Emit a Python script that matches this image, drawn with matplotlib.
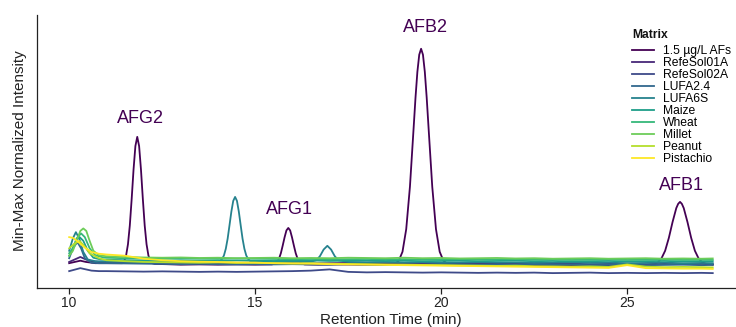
import matplotlib
matplotlib.use("Agg")
import matplotlib.pyplot as plt

plt.rcParams['font.family'] = ['Liberation Sans', 'DejaVu Sans']

# ---------------- data ----------------
series_names = ["1.5 µg/L AFs", "RefeSol01A", "RefeSol02A", "LUFA2.4", "LUFA6S",
                "Maize", "Wheat", "Millet", "Peanut", "Pistachio"]
series_colors = ["#440154", "#482878", "#3E4A89", "#31688E", "#26828E",
                 "#1F9E89", "#35B779", "#6DCD59", "#B4DE2C", "#FDE725"]

peak_labels = ["AFG2", "AFG1", "AFB2", "AFB1"]
peak_label_t = [11.91, 15.91, 19.57, 26.45]
peak_label_v = [0.631, 0.268, 0.999, 0.361]

x_ticks = [10, 15, 20, 25]

# standard (1.5 µg/L AFs)
t_afs = [10.0, 10.15, 10.3, 10.45, 10.7, 11.0, 11.3,
         11.43, 11.48, 11.53, 11.58, 11.63, 11.68, 11.73, 11.78, 11.83, 11.88,
         11.93, 11.98, 12.03, 12.08, 12.13, 12.18, 12.23, 12.3,
         12.6, 13.0, 13.5, 14.0, 14.5, 15.0, 15.45,
         15.54, 15.59, 15.64, 15.69, 15.74, 15.79, 15.84, 15.89, 15.94, 15.99,
         16.04, 16.09, 16.14, 16.19, 16.24, 16.33,
         16.7, 17.2, 17.8, 18.4,
         18.76, 18.86, 18.96, 19.06, 19.16, 19.26, 19.31, 19.36, 19.41, 19.46,
         19.51, 19.56, 19.61, 19.66, 19.76, 19.86, 19.96, 20.06, 20.16,
         20.4, 21.0, 21.5, 22.0, 22.5, 23.0, 23.5, 24.0, 24.5, 25.0, 25.5,
         25.72, 25.82, 25.92, 26.02, 26.12, 26.22, 26.32, 26.37, 26.42, 26.47,
         26.52, 26.62, 26.72, 26.82, 26.92, 27.02, 27.12, 27.3]
v_afs = [0.050, 0.055, 0.060, 0.055, 0.050, 0.050, 0.050,
         0.050, 0.059, 0.081, 0.126, 0.202, 0.309, 0.427, 0.522, 0.559, 0.522,
         0.427, 0.309, 0.202, 0.126, 0.081, 0.059, 0.050, 0.047,
         0.046, 0.044, 0.045, 0.044, 0.045, 0.044, 0.045,
         0.049, 0.055, 0.068, 0.090, 0.121, 0.154, 0.182, 0.192, 0.182, 0.154,
         0.121, 0.090, 0.068, 0.055, 0.049, 0.045,
         0.044, 0.045, 0.044, 0.044,
         0.048, 0.060, 0.096, 0.187, 0.358, 0.597, 0.718, 0.821, 0.890, 0.914,
         0.890, 0.821, 0.718, 0.597, 0.358, 0.187, 0.096, 0.060, 0.048,
         0.044, 0.043, 0.044, 0.043, 0.042, 0.043, 0.042, 0.043, 0.042, 0.043, 0.042,
         0.047, 0.053, 0.069, 0.100, 0.152, 0.216, 0.272, 0.289, 0.297, 0.289,
         0.272, 0.216, 0.152, 0.100, 0.069, 0.053, 0.047, 0.044]

# shared baseline time grid for the matrix samples
t_base = [11.0, 11.5, 12.0, 12.5, 13.0, 13.5, 14.0, 14.5, 15.0, 15.5,
          16.0, 16.5, 17.0, 17.5, 18.0, 18.5, 19.0, 19.5, 20.0, 20.5,
          21.0, 21.5, 22.0, 22.5, 23.0, 23.5, 24.0, 24.5, 25.0, 25.5,
          26.0, 26.5, 27.0, 27.3]

t_early_refesol01a = [10.0, 10.15, 10.3, 10.45, 10.6, 10.8]
v_early_refesol01a = [0.055, 0.065, 0.075, 0.065, 0.058, 0.055]
v_base_refesol01a = [0.054, 0.053, 0.052, 0.053, 0.051, 0.052, 0.050, 0.051, 0.052, 0.050,
                     0.051, 0.049, 0.050, 0.051, 0.049, 0.050, 0.048, 0.049, 0.050, 0.048,
                     0.049, 0.047, 0.048, 0.049, 0.047, 0.048, 0.046, 0.047, 0.048, 0.046,
                     0.047, 0.046, 0.047, 0.046]

t_early_refesol02a = [10.0, 10.15, 10.3, 10.45, 10.6, 10.8]
v_early_refesol02a = [0.018, 0.024, 0.030, 0.025, 0.020, 0.018]
v_base_refesol02a = [0.018, 0.017, 0.016, 0.017, 0.016, 0.015, 0.016, 0.015, 0.016, 0.017,
                     0.018, 0.020, 0.025, 0.015, 0.013, 0.014, 0.013, 0.012, 0.013, 0.012,
                     0.011, 0.012, 0.011, 0.012, 0.010, 0.011, 0.012, 0.010, 0.011, 0.010,
                     0.011, 0.010, 0.011, 0.010]

t_early_lufa24 = [10.0, 10.1, 10.22, 10.32, 10.42, 10.6, 10.8]
v_early_lufa24 = [0.070, 0.110, 0.135, 0.110, 0.070, 0.052, 0.050]
v_base_lufa24 = [0.050, 0.049, 0.048, 0.047, 0.046, 0.047, 0.046, 0.045, 0.046, 0.045,
                 0.046, 0.045, 0.044, 0.046, 0.045, 0.044, 0.045, 0.044, 0.046, 0.045,
                 0.044, 0.043, 0.044, 0.045, 0.043, 0.044, 0.042, 0.043, 0.044, 0.042,
                 0.043, 0.044, 0.042, 0.043]

t_lufa6s = [10.0, 10.1, 10.18, 10.27, 10.38, 10.5, 10.7,
            11.0, 11.5, 12.0, 12.5, 13.0, 13.5, 14.0,
            14.06, 14.11, 14.16, 14.21, 14.26, 14.31, 14.36, 14.41, 14.46,
            14.51, 14.56, 14.61, 14.66, 14.71, 14.76, 14.81, 14.86,
            15.0, 15.5, 16.0, 16.5,
            16.64, 16.74, 16.84, 16.94, 17.04, 17.14, 17.24,
            17.5, 18.0, 18.5, 19.0, 19.5, 20.0, 20.5, 21.0, 21.5, 22.0,
            22.5, 23.0, 23.5, 24.0, 24.5, 25.0, 25.5, 26.0, 26.5, 27.0, 27.3]
v_lufa6s = [0.100, 0.150, 0.175, 0.150, 0.095, 0.065, 0.058,
            0.057, 0.056, 0.055, 0.056, 0.055, 0.054, 0.055,
            0.059, 0.067, 0.081, 0.108, 0.149, 0.203, 0.258, 0.301, 0.317,
            0.301, 0.258, 0.203, 0.149, 0.108, 0.081, 0.067, 0.059,
            0.056, 0.055, 0.056, 0.056,
            0.0615, 0.078, 0.105, 0.120, 0.105, 0.078, 0.0615,
            0.055, 0.054, 0.055, 0.053, 0.054, 0.052, 0.053, 0.054, 0.052, 0.053,
            0.051, 0.052, 0.053, 0.051, 0.052, 0.050, 0.051, 0.052, 0.050, 0.051, 0.050]

t_early_maize = [10.0, 10.1, 10.2, 10.28, 10.38, 10.5, 10.65, 10.85]
v_early_maize = [0.080, 0.110, 0.145, 0.155, 0.140, 0.100, 0.072, 0.065]
v_base_maize = [0.064, 0.062, 0.061, 0.060, 0.062, 0.060, 0.059, 0.061, 0.060, 0.059,
                0.060, 0.061, 0.059, 0.060, 0.061, 0.059, 0.060, 0.058, 0.059, 0.060,
                0.058, 0.059, 0.060, 0.058, 0.059, 0.057, 0.058, 0.059, 0.057, 0.058,
                0.059, 0.057, 0.058, 0.057]

t_early_wheat = [10.0, 10.1, 10.2, 10.32, 10.42, 10.55, 10.7, 10.9]
v_early_wheat = [0.090, 0.110, 0.150, 0.170, 0.155, 0.110, 0.082, 0.074]
v_base_wheat = [0.072, 0.070, 0.069, 0.068, 0.070, 0.068, 0.067, 0.069, 0.068, 0.067,
                0.066, 0.067, 0.065, 0.066, 0.067, 0.065, 0.066, 0.064, 0.065, 0.066,
                0.064, 0.065, 0.066, 0.064, 0.065, 0.063, 0.064, 0.065, 0.063, 0.064,
                0.065, 0.063, 0.064, 0.063]

t_early_millet = [10.0, 10.1, 10.2, 10.3, 10.38, 10.46, 10.55, 10.65, 10.8]
v_early_millet = [0.080, 0.100, 0.140, 0.180, 0.190, 0.180, 0.140, 0.100, 0.082]
v_base_millet = [0.078, 0.075, 0.073, 0.072, 0.073, 0.071, 0.072, 0.070, 0.071, 0.072,
                 0.070, 0.071, 0.070, 0.072, 0.071, 0.070, 0.072, 0.070, 0.071, 0.069,
                 0.070, 0.071, 0.069, 0.070, 0.068, 0.069, 0.070, 0.068, 0.069, 0.070,
                 0.068, 0.069, 0.068, 0.069]

t_early_peanut = [10.0, 10.15, 10.28, 10.4, 10.55, 10.8]
v_early_peanut = [0.110, 0.130, 0.140, 0.120, 0.090, 0.070]
v_base_peanut = [0.062, 0.058, 0.055, 0.054, 0.053, 0.052, 0.053, 0.051, 0.052, 0.050,
                 0.049, 0.050, 0.048, 0.047, 0.046, 0.045, 0.044, 0.043, 0.042, 0.041,
                 0.040, 0.039, 0.040, 0.038, 0.037, 0.036, 0.037, 0.035, 0.045, 0.036,
                 0.034, 0.035, 0.034, 0.033]

t_early_pistachio = [10.0, 10.1, 10.25, 10.4, 10.6, 10.8]
v_early_pistachio = [0.155, 0.152, 0.135, 0.115, 0.095, 0.088]
v_base_pistachio = [0.085, 0.080, 0.068, 0.062, 0.058, 0.056, 0.055, 0.053, 0.052, 0.050,
                    0.049, 0.048, 0.046, 0.045, 0.044, 0.043, 0.042, 0.041, 0.040, 0.039,
                    0.038, 0.037, 0.036, 0.035, 0.034, 0.033, 0.032, 0.031, 0.042, 0.030,
                    0.029, 0.028, 0.028, 0.027]

series_t = [
    t_afs,
    t_early_refesol01a + t_base,
    t_early_refesol02a + t_base,
    t_early_lufa24 + t_base,
    t_lufa6s,
    t_early_maize + t_base,
    t_early_wheat + t_base,
    t_early_millet + t_base,
    t_early_peanut + t_base,
    t_early_pistachio + t_base,
]
series_v = [
    v_afs,
    v_early_refesol01a + v_base_refesol01a,
    v_early_refesol02a + v_base_refesol02a,
    v_early_lufa24 + v_base_lufa24,
    v_lufa6s,
    v_early_maize + v_base_maize,
    v_early_wheat + v_base_wheat,
    v_early_millet + v_base_millet,
    v_early_peanut + v_base_peanut,
    v_early_pistachio + v_base_pistachio,
]

# ---------------- plot ----------------
W, H = 736, 327
fig = plt.figure(figsize=(W / 100, H / 100), dpi=100)
ax = fig.add_axes([37 / W, 1 - 288 / H, (W - 37) / W, (288 - 15) / H])

for name, col, t, v in zip(series_names, series_colors, series_t, series_v):
    ax.plot(t, v, color=col, lw=1.3, label=name, solid_joinstyle='round')

for lab, tx, ty in zip(peak_labels, peak_label_t, peak_label_v):
    ax.text(tx, ty, lab, color="#440154", fontsize=13, ha='center', va='center')

ax.set_xlim(9.135, 27.925)
ax.set_ylim(-0.05, 1.05)
ax.set_xticks(x_ticks)
ax.set_xticklabels([str(x) for x in x_ticks], fontsize=10, color='#222222')
ax.tick_params(axis='x', length=4, width=0.9, color='#222222', pad=2)
ax.set_yticks([])
for s in ['top', 'right']:
    ax.spines[s].set_visible(False)
for s in ['left', 'bottom']:
    ax.spines[s].set_linewidth(0.9)
    ax.spines[s].set_color('#222222')

fig.text(391 / W, 1 - 320 / H, "Retention Time (min)", ha='center', va='center',
         fontsize=11, color='#222222')
fig.text(20 / W, 1 - 151 / H, "Min-Max Normalized Intensity", ha='center', va='center',
         rotation=90, fontsize=11, color='#222222')

fig.text(632 / W, 1 - 35 / H, "Matrix", ha='left', va='center',
         fontsize=8.7, fontweight='bold', color='#111111')
leg = ax.legend(loc='upper left', bbox_to_anchor=(632 / W, 1 - 45 / H),
                bbox_transform=fig.transFigure, frameon=False, fontsize=8.7,
                handlelength=1.8, handletextpad=0.75,
                labelspacing=0.0, borderpad=0, borderaxespad=0)
for line in leg.get_lines():
    line.set_linewidth(1.3)

fig.savefig("out.png", dpi=100)
